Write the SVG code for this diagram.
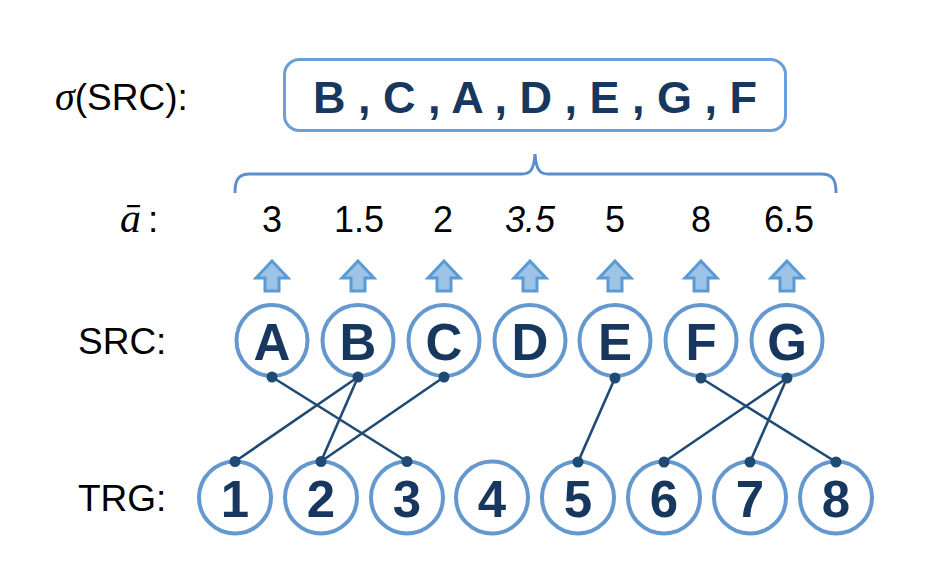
<svg xmlns="http://www.w3.org/2000/svg" width="932" height="576" viewBox="0 0 932 576">
<style>
.lbl{font-family:"Liberation Sans",Arial,sans-serif;font-size:37px;fill:#000}
.val{font-family:"Liberation Sans",Arial,sans-serif;font-size:36px;fill:#000;text-anchor:middle}
.node circle{fill:#fff;stroke:#6498CE;stroke-width:4}
.node text{font-family:"Liberation Sans",Arial,sans-serif;font-weight:bold;font-size:51px;fill:#17375E;text-anchor:middle}
.conn line{stroke:#1F4A73;stroke-width:2.6}
.conn circle{fill:#1F4A73}
.arr{fill:#9DC3E6;stroke:#5B9BD5;stroke-width:3;stroke-linejoin:miter}
</style>
<rect width="932" height="576" fill="#fff"/>

<!-- sigma label and box -->
<text class="lbl" x="55" y="110"><tspan font-family="'Liberation Serif',serif" font-style="italic" font-size="40">σ</tspan>(SRC):</text>
<g id="sigma-box">
<rect x="284.5" y="59.5" width="501" height="71" rx="15" fill="#fff" stroke="#6A9FD8" stroke-width="3"/>
<text x="535" y="113" font-family="'Liberation Sans',Arial,sans-serif" font-weight="bold" font-size="45" fill="#17375E" text-anchor="middle" xml:space="preserve">B , C , A , D , E , G , F</text>
</g>

<!-- brace -->
<path d="M235,193 C235,180 238,174 250,174 L522,174 C530,174 534,170 535,154 C536,170 540,174 548,174 L821,174 C833,174 836,180 836,193" fill="none" stroke="#5B8FC9" stroke-width="3"/>

<!-- a-bar label and values -->
<text class="lbl" x="120" y="232"><tspan font-family="'Liberation Serif',serif" font-style="italic" font-size="42">ā</tspan><tspan dx="7">:</tspan></text>
<text class="val" x="272" y="232">3</text>
<text class="val" x="359" y="232">1.5</text>
<text class="val" x="443" y="232">2</text>
<text class="val" x="530" y="232" font-style="italic">3.5</text>
<text class="val" x="615" y="232">5</text>
<text class="val" x="701" y="232">8</text>
<text class="val" x="789" y="232">6.5</text>

<!-- up arrows -->
<defs>
<path id="up" d="M0,-29 L16,-12 L7,-12 L7,1 L-7,1 L-7,-12 L-16,-12 Z"/>
</defs>
<g id="arrows">
<use href="#up" class="arr" x="272" y="290"/>
<use href="#up" class="arr" x="358" y="290"/>
<use href="#up" class="arr" x="444" y="290"/>
<use href="#up" class="arr" x="530" y="290"/>
<use href="#up" class="arr" x="615" y="290"/>
<use href="#up" class="arr" x="701" y="290"/>
<use href="#up" class="arr" x="787" y="290"/>
</g>

<!-- row labels -->
<text class="lbl" x="78" y="354">SRC:</text>
<text class="lbl" x="78" y="511">TRG:</text>

<!-- SRC nodes -->
<g id="src-A" class="node"><circle cx="272" cy="340.5" r="35.5"/><text x="272" y="360">A</text></g>
<g id="src-B" class="node"><circle cx="358" cy="340.5" r="35.5"/><text x="358" y="360">B</text></g>
<g id="src-C" class="node"><circle cx="444" cy="340.5" r="35.5"/><text x="444" y="360">C</text></g>
<g id="src-D" class="node"><circle cx="530" cy="340.5" r="35.5"/><text x="530" y="360">D</text></g>
<g id="src-E" class="node"><circle cx="615" cy="340.5" r="35.5"/><text x="615" y="360">E</text></g>
<g id="src-F" class="node"><circle cx="701" cy="340.5" r="35.5"/><text x="701" y="360">F</text></g>
<g id="src-G" class="node"><circle cx="787" cy="340.5" r="35.5"/><text x="787" y="360">G</text></g>

<!-- TRG nodes -->
<g id="trg-1" class="node"><circle cx="235" cy="497.5" r="36"/><text x="235" y="517">1</text></g>
<g id="trg-2" class="node"><circle cx="321" cy="497.5" r="36"/><text x="321" y="517">2</text></g>
<g id="trg-3" class="node"><circle cx="407" cy="497.5" r="36"/><text x="407" y="517">3</text></g>
<g id="trg-4" class="node"><circle cx="492" cy="497.5" r="36"/><text x="492" y="517">4</text></g>
<g id="trg-5" class="node"><circle cx="578" cy="497.5" r="36"/><text x="578" y="517">5</text></g>
<g id="trg-6" class="node"><circle cx="664" cy="497.5" r="36"/><text x="664" y="517">6</text></g>
<g id="trg-7" class="node"><circle cx="750" cy="497.5" r="36"/><text x="750" y="517">7</text></g>
<g id="trg-8" class="node"><circle cx="836" cy="497.5" r="36"/><text x="836" y="517">8</text></g>

<!-- connectors -->
<g id="connectors" class="conn">
<line x1="272" y1="377" x2="407" y2="461.5"/>
<line x1="358" y1="377" x2="235" y2="461.5"/>
<line x1="358" y1="377" x2="321" y2="461.5"/>
<line x1="444" y1="377" x2="321" y2="461.5"/>
<line x1="615" y1="378" x2="578" y2="462"/>
<line x1="701" y1="378" x2="836" y2="462"/>
<line x1="787" y1="378" x2="664" y2="462"/>
<line x1="787" y1="378" x2="750" y2="462"/>
<circle cx="272" cy="377" r="5.5"/>
<circle cx="358" cy="377" r="5.5"/>
<circle cx="444" cy="377" r="5.5"/>
<circle cx="615" cy="378" r="5.5"/>
<circle cx="701" cy="378" r="5.5"/>
<circle cx="787" cy="378" r="5.5"/>
<circle cx="235" cy="461.5" r="5.5"/>
<circle cx="321" cy="461.5" r="5.5"/>
<circle cx="407" cy="461.5" r="5.5"/>
<circle cx="578" cy="462" r="5.5"/>
<circle cx="664" cy="462" r="5.5"/>
<circle cx="750" cy="462" r="5.5"/>
<circle cx="836" cy="462" r="5.5"/>
</g>
</svg>
